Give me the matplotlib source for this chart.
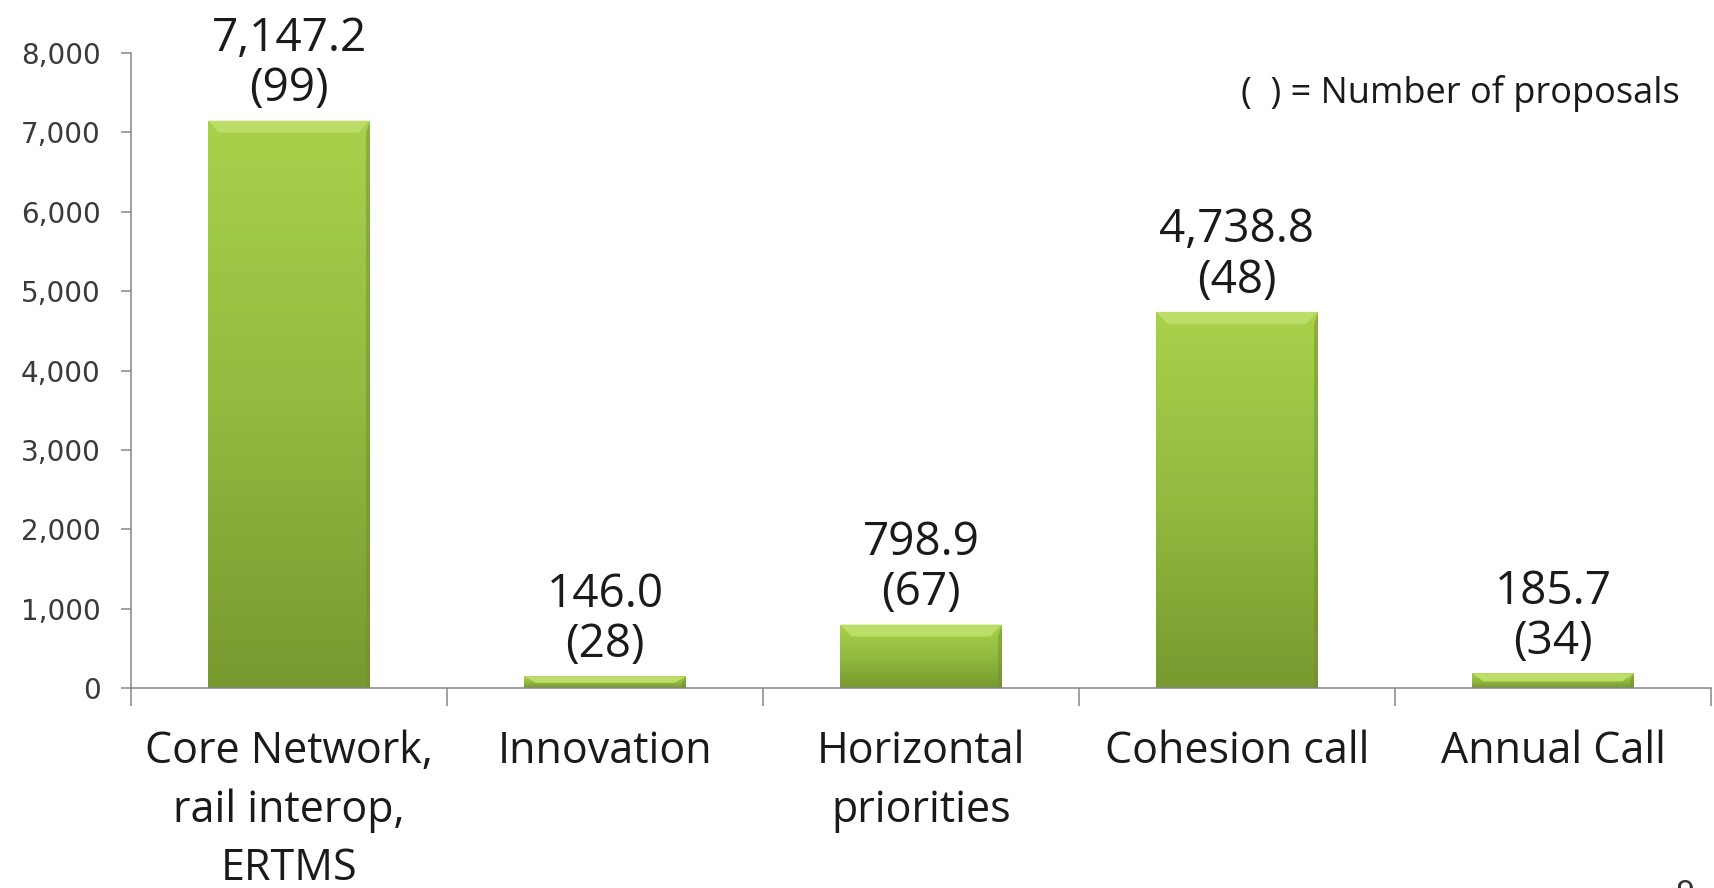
import numpy as np
import matplotlib.pyplot as plt
from matplotlib.colors import LinearSegmentedColormap
from matplotlib.patches import Polygon

# data
categories = ['Core Network,\nrail interop,\nERTMS', 'Innovation',
              'Horizontal\npriorities', 'Cohesion call', 'Annual Call']
amounts = [7147.2, 146.0, 798.9, 4738.8, 185.7]
proposals = [99, 28, 67, 48, 34]
yticks = [0, 1000, 2000, 3000, 4000, 5000, 6000, 7000, 8000]

fig = plt.figure(figsize=(17.14, 8.88), dpi=100)
ax = fig.add_axes([131/1714, 1 - 688/888, 1580/1714, 635/888])

x = np.arange(len(categories))
width = 0.51
bars = ax.bar(x, amounts, width=width, color='none', edgecolor='none', zorder=2)

green = LinearSegmentedColormap.from_list('g', ['#78992f', '#92bb40', '#a9d14b'])
grad = np.linspace(0, 1, 256).reshape(-1, 1)

for b in bars:
    x0, h = b.get_x(), b.get_height()
    im = ax.imshow(grad, cmap=green, origin='lower', aspect='auto',
                   extent=[x0, x0 + width, 0, h], zorder=2)
    im.set_clip_path(b)
    # lighter bevel on the top edge
    bh = min(150, 0.55 * h)
    ins = 0.035
    ax.add_patch(Polygon([[x0, h], [x0 + width, h], [x0 + width - ins, h - bh],
                          [x0 + ins, h - bh]], closed=True,
                         facecolor='#bcdd68', edgecolor='none', zorder=3))
    # slightly darker right edge
    ax.add_patch(Polygon([[x0 + width, h], [x0 + width, 0], [x0 + width - 0.012, 0],
                          [x0 + width - 0.012, h - bh]], closed=True,
                         facecolor='#6f8e30', edgecolor='none', alpha=0.5, zorder=3))

for xi, v, n in zip(x, amounts, proposals):
    ax.annotate(f'{v:,.1f}\n({n})', (xi, v), xytext=(0, 6), textcoords='offset points',
                ha='center', va='bottom', fontsize=33, family='Open Sans',
                color='#1a1a1a', linespacing=1.12, annotation_clip=False)

ax.set_xlim(-0.5, len(categories) - 0.5)
ax.set_ylim(0, 8000)
ax.set_yticks(yticks)
ax.set_yticklabels([f'{t:,}' for t in yticks], fontsize=20, color='#3a3a3a')
ax.tick_params(axis='y', length=7, width=1.1, color='#868686', pad=15)

ax.set_xticks(x)
ax.set_xticklabels(categories, fontsize=31, family='Open Sans', color='#1a1a1a',
                   linespacing=1.42)
ax.set_xticks(np.arange(-0.5, len(categories)), minor=True)
ax.tick_params(axis='x', which='major', length=0, pad=30)
ax.tick_params(axis='x', which='minor', length=13, width=1.1, color='#868686')

for s in ['top', 'right']:
    ax.spines[s].set_visible(False)
for s in ['left', 'bottom']:
    ax.spines[s].set_color('#868686')
    ax.spines[s].set_linewidth(1.1)

fig.text(1680/1714, 1 - 93/888, '(  ) = Number of proposals', ha='right', va='center',
         fontsize=26, family='Open Sans', color='#1a1a1a')
fig.text(1685/1714, -0.006, '9', ha='center', va='center', fontsize=22, color='#333333')

fig.savefig('out.png', dpi=100)
